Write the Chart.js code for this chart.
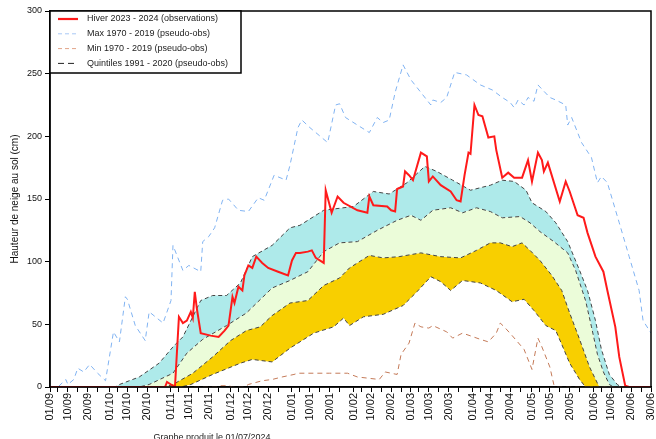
<!DOCTYPE html>
<html><head><meta charset="utf-8">
<script src="https://cdn.jsdelivr.net/npm/chart.js@4"></script>
<style>html,body{margin:0;padding:0;background:#fff}canvas{display:block}</style>
</head><body>
<canvas id="c" width="656" height="439" style="width:656px;height:439px"></canvas>
<script>
// ---- Tick labels (day/month), season 2023-2024 ----
const xTickLabels = ['01/09','10/09','20/09','01/10','10/10','20/10','01/11','10/11','20/11','01/12','10/12','20/12',
  '01/01','10/01','20/01','01/02','10/02','20/02','01/03','10/03','20/03','01/04','10/04','20/04',
  '01/05','10/05','20/05','01/06','10/06','20/06','30/06'];
const yTicks = [0,50,100,150,200,250,300];

// ---- Series: [day since 01/09, snow depth cm] ----
const obs = [[0,0],[58,0],[59,4],[61,2],[62,1],[63,0],[65,56],[67,51],[69,53],[71,60],[72,55],[73,76],[74,63],[76,43],[81,41],[85,40],[88,45],[90,49],[92,72],[93,67],[95,80],[97,77],[98,89],[100,97],[102,95],[104,104],[107,99],[110,95],[115,92],[120,89],[122,101],[124,107],[126,107],[130,108],[132,109],[134,103],[138,99],[139,157],[142,139],[145,152],[148,147],[155,141],[160,139],[161,152],[163,145],[170,144],[172,141],[174,140],[175,158],[178,160],[179,172],[181,169],[183,165],[187,187],[190,184],[191,164],[193,168],[197,161],[202,156],[205,149],[207,148],[209,169],[211,187],[212,186],[214,225],[216,217],[218,216],[221,199],[224,200],[225,189],[228,167],[231,171],[234,167],[238,167],[241,181],[243,164],[246,187],[248,181],[249,172],[251,179],[257,148],[260,164],[262,156],[266,137],[269,135],[271,123],[275,104],[279,92],[281,77],[285,48],[287,24],[290,1],[292,0],[303,0]];

const maxSerie = [[0,0],[4,0],[8,6],[9,2],[12,6],[14,15],[17,12],[20,18],[24,11],[28,5],[32,44],[35,36],[38,72],[39,70],[43,49],[48,37],[50,60],[57,51],[61,69],[62,113],[67,93],[70,97],[76,92],[77,116],[80,120],[83,127],[87,149],[90,150],[95,141],[100,140],[105,151],[108,149],[113,169],[119,165],[121,177],[125,207],[127,213],[131,207],[140,195],[144,225],[146,226],[149,215],[161,203],[165,215],[168,211],[171,213],[174,235],[178,257],[182,245],[192,225],[193,229],[197,227],[200,231],[204,251],[210,249],[217,241],[223,237],[228,231],[232,227],[234,223],[236,229],[239,225],[241,231],[244,228],[246,241],[252,231],[255,229],[260,225],[261,209],[263,215],[268,195],[273,183],[276,163],[278,168],[281,163],[287,131],[292,104],[297,77],[299,53],[303,43]];

const minSerie = [[0,0],[85,0],[86,1],[90,1],[92,0],[98,0],[100,2],[107,5],[112,6],[117,8],[123,10],[125,11],[141,11],[150,11],[155,8],[166,6],[169,12],[175,10],[177,26],[181,35],[184,51],[187,48],[191,47],[193,49],[200,44],[203,39],[208,43],[217,38],[221,36],[225,43],[227,51],[229,48],[233,41],[239,30],[243,14],[246,39],[248,32],[252,16],[254,2],[255,0],[303,0]];

const q80 = [[0,0],[33,0],[35,2],[45,8],[55,19],[62,32],[67,40],[76,69],[82,73],[89,73],[96,83],[102,104],[112,113],[121,127],[126,129],[138,141],[153,144],[163,156],[171,154],[180,163],[189,176],[195,172],[203,165],[212,157],[222,161],[228,165],[234,164],[240,157],[243,147],[250,140],[255,131],[261,116],[267,93],[271,77],[275,53],[278,30],[282,10],[286,2],[288,0],[303,0]];
const q60 = [[0,0],[45,0],[50,2],[62,11],[69,27],[77,38],[89,49],[99,59],[112,79],[121,85],[130,92],[138,108],[146,115],[155,116],[165,125],[175,133],[182,137],[187,133],[193,141],[202,143],[208,139],[215,143],[222,140],[228,135],[237,136],[242,131],[247,124],[254,116],[261,107],[265,93],[270,69],[273,48],[276,26],[279,12],[282,2],[284,0],[303,0]];
const q40 = [[0,0],[58,0],[62,2],[72,11],[82,24],[91,37],[99,45],[106,48],[112,57],[121,67],[130,69],[138,81],[146,87],[151,95],[161,105],[168,103],[176,104],[187,107],[197,104],[207,103],[215,109],[222,115],[227,115],[233,112],[238,115],[242,109],[247,101],[253,89],[258,77],[262,59],[267,38],[272,16],[276,3],[277,0],[303,0]];
const q20 = [[0,0],[66,0],[71,2],[82,10],[96,19],[102,22],[112,20],[121,31],[133,43],[143,48],[148,55],[151,49],[158,56],[168,58],[178,65],[185,76],[192,88],[197,84],[202,77],[208,85],[217,83],[225,77],[233,68],[239,70],[244,61],[250,49],[255,45],[258,34],[262,19],[267,6],[270,0],[303,0]];

const legendTexts = ['Hiver 2023 - 2024 (observations)','Max 1970 - 2019 (pseudo-obs)','Min 1970 - 2019 (pseudo-obs)','Quintiles 1991 - 2020 (pseudo-obs)'];
const footerText = 'Graphe produit le 01/07/2024';
const yTitle = 'Hauteur de neige au sol (cm)';

// ---- helpers ----
const monthStart = {'09':0,'10':30,'11':61,'12':91,'01':122,'02':153,'03':182,'04':213,'05':243,'06':274};
function dayOf(lbl){ const p = lbl.split('/'); return monthStart[p[1]] + parseInt(p[0],10) - 1; }
const labelByDay = {};
xTickLabels.forEach(l => { labelByDay[dayOf(l)] = l; });
const tickDays = new Set(Object.keys(labelByDay).map(Number));
Object.values(monthStart).forEach(s => [5,15,25].forEach(d => { if (s + d - 1 <= 303) tickDays.add(s + d - 1); }));
const allTicks = Array.from(tickDays).sort((a,b)=>a-b);
const pts = a => a.map(([x,y]) => ({x, y}));

const FONT = "'Liberation Sans', Arial, Helvetica, sans-serif";
const C_OBS = '#ff1a1a', C_MAX = '#80b3f2', C_MIN = '#c47a58', C_Q = '#444';

const frameAndLegend = {
  id: 'frameAndLegend',
  afterDraw(chart) {
    const ctx = chart.ctx, a = chart.chartArea;
    ctx.save();
    ctx.strokeStyle = '#000'; ctx.lineWidth = 1.5; ctx.setLineDash([]);
    ctx.strokeRect(a.left, a.top, a.right - a.left, a.bottom - a.top);
    // legend box
    const lx = a.left, ly = a.top, lw = 191, lh = 62;
    ctx.fillStyle = '#fff';
    ctx.fillRect(lx, ly, lw, lh);
    ctx.strokeRect(lx, ly, lw, lh);
    const styles = [
      {c: C_OBS, w: 2.2, d: []},
      {c: '#a9c8f5', w: 1, d: [4,3]},
      {c: '#e2a488', w: 1, d: [4,3]},
      {c: '#222', w: 1, d: [6,4]}
    ];
    ctx.font = '9px ' + FONT;
    ctx.textBaseline = 'middle';
    legendTexts.forEach((t, i) => {
      const y = ly + 8 + i * 14.8;
      ctx.strokeStyle = styles[i].c; ctx.lineWidth = styles[i].w; ctx.setLineDash(styles[i].d);
      ctx.beginPath(); ctx.moveTo(lx + 8, y); ctx.lineTo(lx + 28, y); ctx.stroke();
      ctx.fillStyle = '#222';
      ctx.fillText(t, lx + 37, y);
    });
    // footer
    ctx.setLineDash([]);
    ctx.font = '9px ' + FONT;
    ctx.textAlign = 'center'; ctx.textBaseline = 'alphabetic';
    ctx.fillStyle = '#222';
    ctx.fillText(footerText, 212, 440);
    ctx.restore();
  }
};

const lineBase = {pointRadius: 0, pointHoverRadius: 0, tension: 0, borderWidth: 1, fill: false, spanGaps: true};

new Chart(document.getElementById('c'), {
  type: 'line',
  data: {
    datasets: [
      Object.assign({}, lineBase, {label: legendTexts[0], data: pts(obs), borderColor: C_OBS, borderWidth: 2}),
      Object.assign({}, lineBase, {label: legendTexts[1], data: pts(maxSerie), borderColor: C_MAX, borderDash: [5,4]}),
      Object.assign({}, lineBase, {label: legendTexts[2], data: pts(minSerie), borderColor: C_MIN, borderDash: [5,4]}),
      Object.assign({}, lineBase, {label: 'Q20', data: pts(q20), borderColor: C_Q, borderDash: [4,3]}),
      Object.assign({}, lineBase, {label: 'Q40', data: pts(q40), borderColor: C_Q, borderDash: [4,3], fill: '-1', backgroundColor: '#f8cf00'}),
      Object.assign({}, lineBase, {label: 'Q60', data: pts(q60), borderColor: C_Q, borderDash: [4,3], fill: '-1', backgroundColor: '#ebfcd9'}),
      Object.assign({}, lineBase, {label: 'Q80', data: pts(q80), borderColor: C_Q, borderDash: [4,3], fill: '-1', backgroundColor: '#aeeaea'})
    ]
  },
  options: {
    responsive: false,
    animation: false,
    devicePixelRatio: 1,
    layout: {padding: {top: 11, right: 5, left: 0, bottom: 0}},
    plugins: {legend: {display: false}, tooltip: {enabled: false}, title: {display: false}},
    events: [],
    scales: {
      x: {
        type: 'linear', min: 0, max: 303,
        afterBuildTicks: ax => { ax.ticks = allTicks.map(v => ({value: v})); },
        afterFit: sc => { sc.height = 52; sc.paddingLeft = 0; sc.paddingRight = 0; },
        grid: {display: true, drawOnChartArea: false, drawTicks: true, tickLength: 5, color: '#000', lineWidth: 1},
        border: {display: true, color: '#000', width: 1.5},
        ticks: {
          autoSkip: false, minRotation: 90, maxRotation: 90, padding: 1,
          color: '#111', font: {family: FONT, size: 11},
          callback: v => labelByDay[v] || ''
        }
      },
      y: {
        min: 0, max: 300,
        afterBuildTicks: ax => { ax.ticks = yTicks.map(v => ({value: v})); },
        afterFit: sc => { sc.width = 50; sc.paddingTop = 0; sc.paddingBottom = 0; },
        grid: {display: true, drawOnChartArea: false, drawTicks: true, tickLength: 5, color: '#000', lineWidth: 1},
        border: {display: true, color: '#000', width: 1.5},
        ticks: {padding: 3, color: '#111', font: {family: FONT, size: 9}},
        title: {display: true, text: yTitle, color: '#111', font: {family: FONT, size: 10}, padding: {top: 9, bottom: 0}}
      }
    }
  },
  plugins: [frameAndLegend]
});
</script>
</body></html>
